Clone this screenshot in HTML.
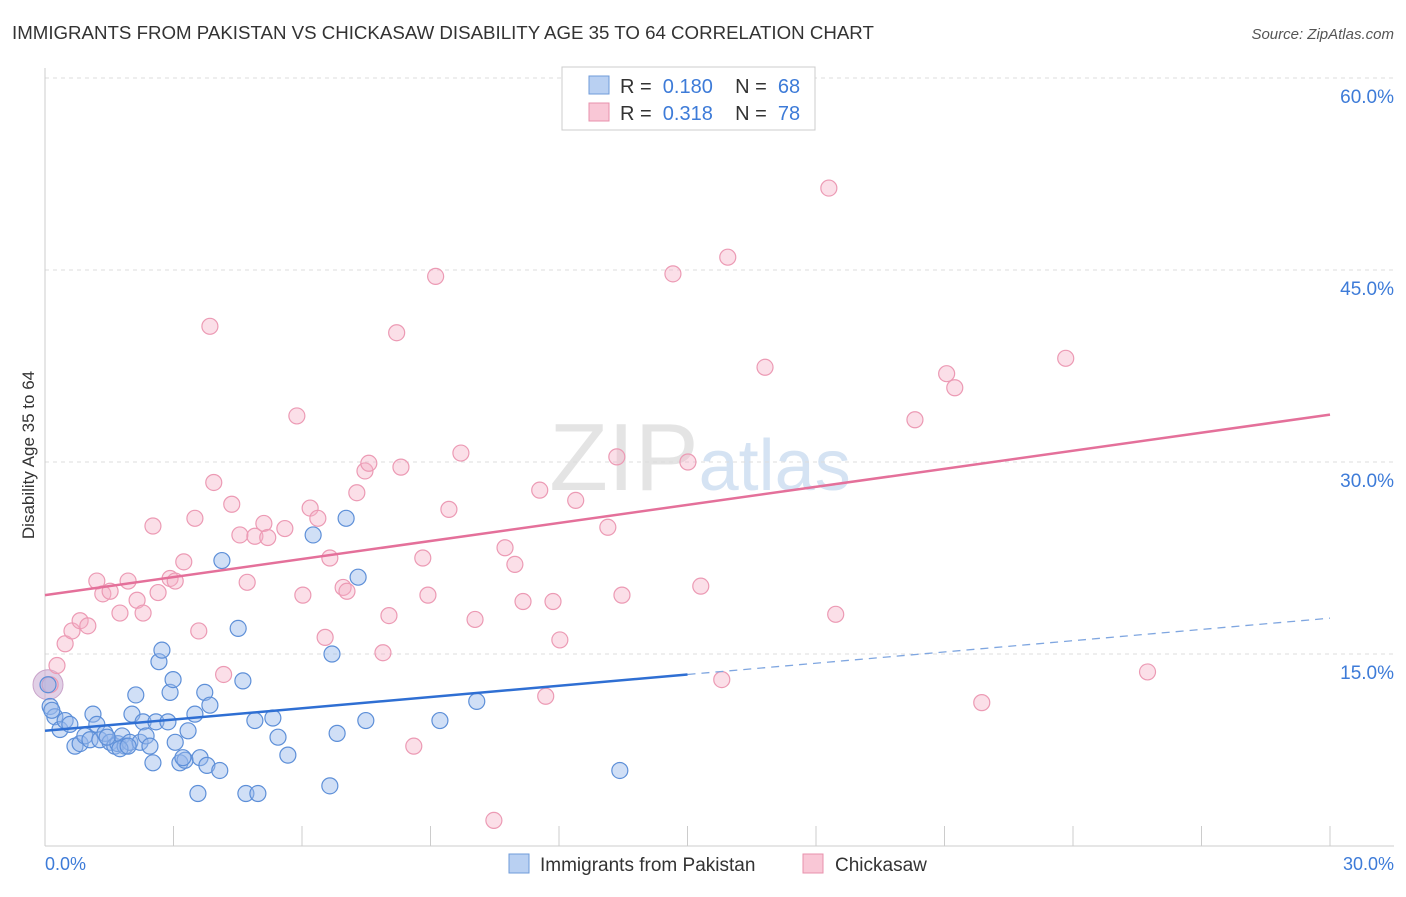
<!DOCTYPE html>
<html><head><meta charset="utf-8"><style>
body{margin:0;background:#fff;font-family:"Liberation Sans",sans-serif;}
svg text{font-family:"Liberation Sans",sans-serif;}
</style></head><body>
<svg id="c" width="1406" height="892">
<text x="12" y="39" font-size="18.7" fill="#333">IMMIGRANTS FROM PAKISTAN VS CHICKASAW DISABILITY AGE 35 TO 64 CORRELATION CHART</text>
<text x="1394" y="39" font-size="15" fill="#555" font-style="italic" text-anchor="end">Source: ZipAtlas.com</text>
<text x="700" y="490" font-size="96" fill="#e4e4e4" text-anchor="middle" font-family="Liberation Serif">ZIP<tspan fill="#d5e3f3" font-family="Liberation Sans" font-size="72">atlas</tspan></text>
<text transform="translate(34,455) rotate(-90)" font-size="17" fill="#333" text-anchor="middle">Disability Age 35 to 64</text>
<g id="grid"></g><g id="pts"></g>
<g>
<rect x="562" y="67" width="253" height="63" fill="#fff" stroke="#ccc"/>
<rect x="589" y="76" width="20" height="18" fill="#b9d0f2" stroke="#6f9bd9"/>
<rect x="589" y="103" width="20" height="18" fill="#f9c7d6" stroke="#e892ac"/>
<text x="620" y="93" font-size="20" fill="#333" xml:space="preserve">R =  <tspan fill="#3d7bd8">0.180</tspan>    N =  <tspan fill="#3d7bd8">68</tspan></text>
<text x="620" y="120" font-size="20" fill="#333" xml:space="preserve">R =  <tspan fill="#3d7bd8">0.318</tspan>    N =  <tspan fill="#3d7bd8">78</tspan></text>
</g>
<g>
<rect x="509" y="854" width="20" height="19" fill="#b9d0f2" stroke="#6f9bd9"/>
<text x="540" y="871" font-size="19" fill="#333">Immigrants from Pakistan</text>
<rect x="803" y="854" width="20" height="19" fill="#f9c7d6" stroke="#e892ac"/>
<text x="835" y="871" font-size="19" fill="#333">Chickasaw</text>
</g>
<text x="45" y="870" font-size="18" fill="#3d7bd8">0.0%</text>
<text x="1394" y="870" font-size="18" fill="#3d7bd8" text-anchor="end">30.0%</text>
</svg>
<script>
const blueX=[0.12,0.23,0.35,0.47,0.58,0.7,0.82,0.93,1.05,1.12,1.21,1.28,1.4,1.52,1.63,1.7,1.8,1.87,1.98,2.03,2.12,2.22,2.29,2.36,2.45,2.52,2.59,2.66,2.73,2.87,2.92,2.99,3.04,3.15,3.27,3.34,3.5,3.57,3.62,3.73,3.78,3.85,4.08,4.13,4.51,4.62,4.69,4.9,4.97,5.32,5.44,5.67,6.26,6.65,6.7,6.82,7.03,7.31,7.49,9.22,10.08,13.42,0.07,0.16,1.45,1.75,1.94,3.22];
const blueY=[10.9,10.1,9.1,9.8,9.5,7.8,8.0,8.6,8.3,10.3,9.5,8.3,8.8,8.1,7.8,8.0,8.6,7.8,8.1,10.3,11.8,8.1,9.7,8.6,7.8,6.5,9.7,14.4,15.3,9.7,12.0,13.0,8.1,6.5,6.7,9.0,10.3,4.1,6.9,12.0,6.3,11.0,5.9,22.3,17.0,12.9,4.1,9.8,4.1,10.0,8.5,7.1,24.3,4.7,15.0,8.8,25.6,21.0,9.8,9.8,11.3,5.9,12.6,10.6,8.5,7.6,7.8,6.9];
const pinkX=[0.12,0.28,0.47,0.63,0.82,1.0,1.21,1.35,1.52,1.75,1.94,2.15,2.29,2.52,2.64,2.92,3.04,3.24,3.5,3.59,3.85,3.94,4.17,4.36,4.55,4.72,4.9,5.11,5.2,5.6,5.88,6.02,6.19,6.37,6.54,6.65,6.96,7.05,7.28,7.47,7.56,7.89,8.03,8.21,8.31,8.61,8.82,8.94,9.12,9.43,9.71,10.04,10.48,10.74,10.97,11.16,11.55,11.69,11.86,12.02,12.39,13.14,13.35,13.47,14.66,15.01,15.31,15.8,15.94,16.81,18.3,18.46,20.31,21.05,21.24,21.87,23.83,25.74];
const pinkY=[12.6,14.1,15.8,16.8,17.6,17.2,20.7,19.7,19.9,18.2,20.7,19.2,18.2,25.0,19.8,20.9,20.7,22.2,25.6,16.8,40.6,28.4,13.4,26.7,24.3,20.6,24.2,25.2,24.1,24.8,33.6,19.6,26.4,25.6,16.3,22.5,20.2,19.9,27.6,29.3,29.9,15.1,18.0,40.1,29.6,7.8,22.5,19.6,44.5,26.3,30.7,17.7,2.0,23.3,22.0,19.1,27.8,11.7,19.1,16.1,27.0,24.9,30.4,19.6,44.7,30.0,20.3,13.0,46.0,37.4,51.4,18.1,33.3,36.9,35.8,11.2,38.1,13.6];
const xTicks=[0,3,6,9,12,15,18,21,24,27,30];
const yTicks=[15,30,45,60];
const yTickLabels=["15.0%","30.0%","45.0%","60.0%"];
const blueLine=[9.0,13.4,17.8];const pinkLine=[19.6,33.7];
const X=v=>45+v/30*1285, Y=v=>846-v/15*192;
const NS="http://www.w3.org/2000/svg";
function mk(p,t,a){const e=document.createElementNS(NS,t);for(const k in a)e.setAttribute(k,a[k]);p.appendChild(e);return e;}
const g=document.getElementById('grid'),P=document.getElementById('pts');
yTicks.forEach((t,i)=>{const l=mk(g,'line',{x1:45,x2:1394,y1:Y(t),y2:Y(t),stroke:'#ddd','stroke-dasharray':'4,4'});


const tx=mk(g,'text',{x:1394,y:Y(t)+25,'font-size':19,fill:'#3d7bd8','text-anchor':'end'});tx.textContent=yTickLabels[i];

});
const ax=mk(g,'line',{x1:45,x2:1394,y1:846,y2:846,stroke:'#ccc'});


const ay=mk(g,'line',{x1:45,x2:45,y1:68,y2:846,stroke:'#ccc'});


xTicks.forEach(t=>{const l=mk(g,'line',{x1:X(t),x2:X(t),y1:826,y2:846,stroke:'#ccc'});

});
const big=mk(P,'circle',{cx:X(0.07),cy:Y(12.6),r:15,fill:'rgba(200,170,210,0.55)',stroke:'#c9a3c9'});


pinkX.forEach((x,i)=>{const c=mk(P,'circle',{cx:X(x),cy:Y(pinkY[i]),r:8,fill:'rgba(245,175,198,0.4)',stroke:'#ec9ab4','stroke-width':1.2});

});
blueX.forEach((x,i)=>{const c=mk(P,'circle',{cx:X(x),cy:Y(blueY[i]),r:8,fill:'rgba(150,185,235,0.45)',stroke:'#5d8fd8','stroke-width':1.2});

});
const pl=mk(P,'line',{x1:X(0),y1:Y(pinkLine[0]),x2:X(30),y2:Y(pinkLine[1]),stroke:'#e4709a','stroke-width':2.5});


const bl=mk(P,'line',{x1:X(0),y1:Y(blueLine[0]),x2:X(15),y2:Y(blueLine[1]),stroke:'#2f6fd3','stroke-width':2.5});


const bd=mk(P,'line',{x1:X(15),y1:Y(blueLine[1]),x2:X(30),y2:Y(blueLine[2]),stroke:'#7fa6e0','stroke-width':1.3,'stroke-dasharray':'8,6'});


</script>
</body></html>
